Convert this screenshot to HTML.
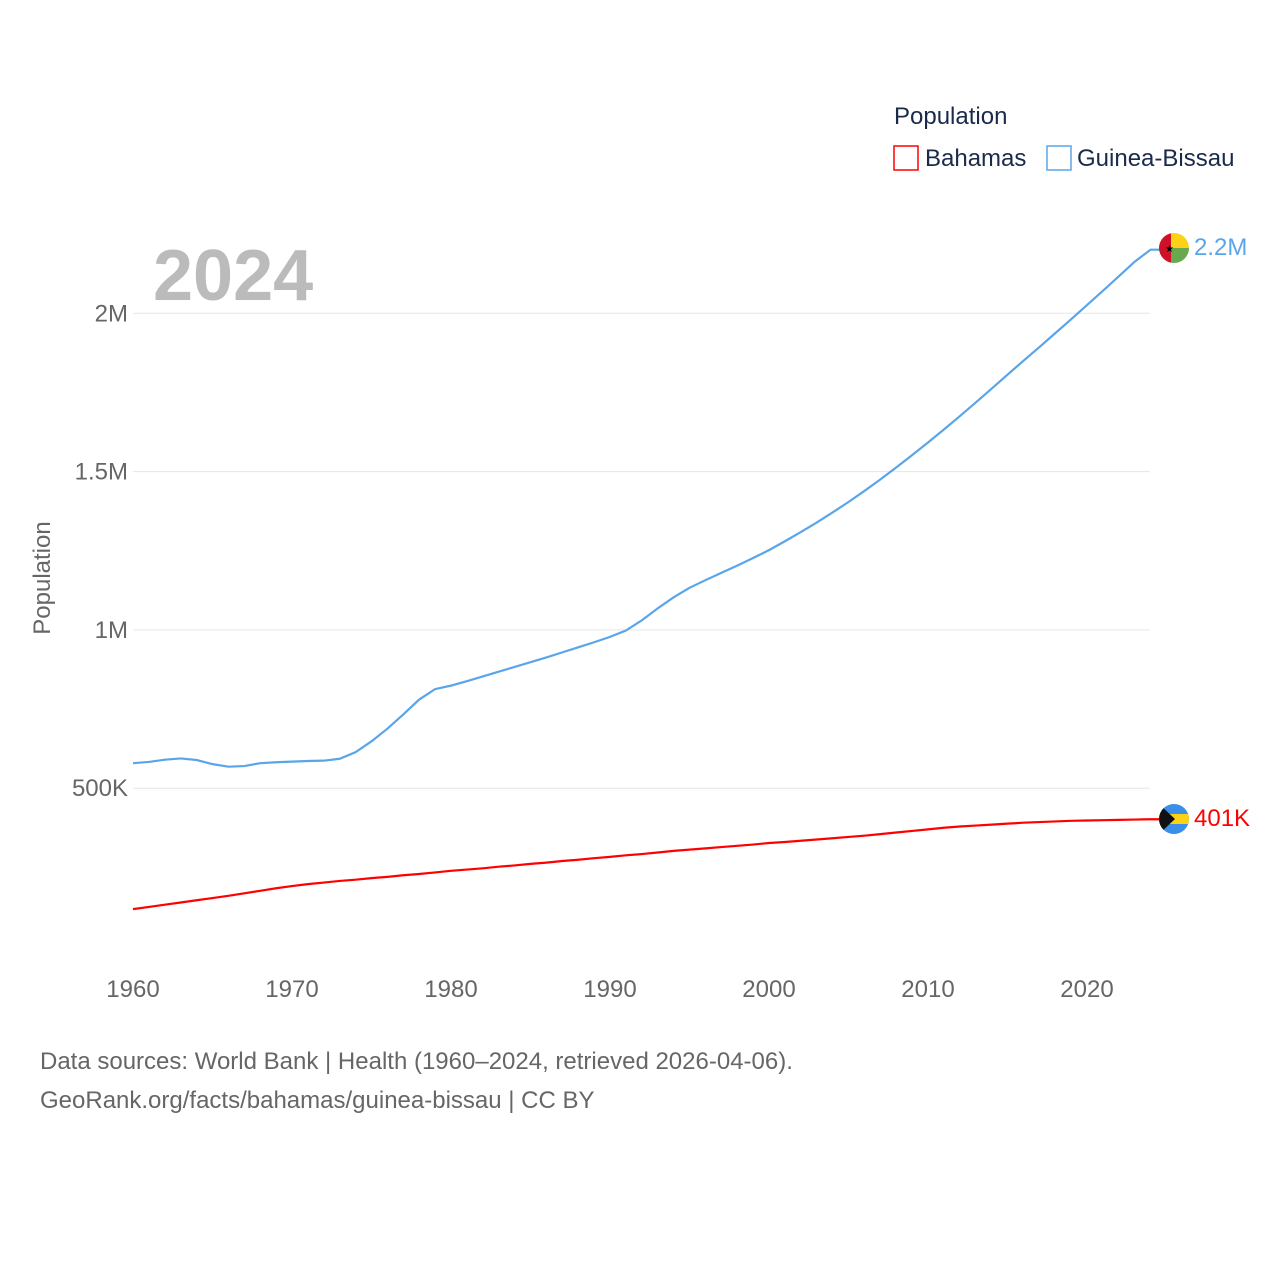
<!DOCTYPE html>
<html><head><meta charset="utf-8"><style>
body{margin:0;background:#fff;font-family:"Liberation Sans",sans-serif}
svg{display:block}
</style></head><body>
<svg width="1280" height="1280" viewBox="0 0 1280 1280">
<text x="894" y="124" font-size="24" fill="#1a2a4a">Population</text>
<g><rect x="894" y="146" width="24" height="24" fill="none" stroke="#f00" stroke-width="1.5"/><text x="925" y="166" font-size="24" fill="#1a2a4a">Bahamas</text></g>
<g><rect x="1047" y="146" width="24" height="24" fill="none" stroke="#5aa5ea" stroke-width="1.5"/><text x="1077" y="166" font-size="24" fill="#1a2a4a">Guinea-Bissau</text></g>
<text x="153" y="300" font-size="72" font-weight="bold" fill="#bbb">2024</text>
<text transform="translate(50,578) rotate(-90)" text-anchor="middle" font-size="24" fill="#666">Population</text>
<g id="grid"></g><g id="ylab"></g><g id="xlab"></g><g id="lines"></g>
<g><clipPath id="c1"><circle cx="1174" cy="248" r="15"/></clipPath><g clip-path="url(#c1)"><rect x="1159" y="233" width="12" height="30" fill="#ce1126"/><rect x="1171" y="233" width="18" height="15" fill="#fcd116"/><rect x="1171" y="248" width="18" height="15" fill="#6aa84f"/></g><text x="1165" y="252" font-size="10">★</text></g>
<g><clipPath id="c2"><circle cx="1174" cy="819" r="15"/></clipPath><g clip-path="url(#c2)"><rect x="1159" y="804" width="30" height="30" fill="#3a8fe8"/><rect x="1159" y="814" width="30" height="10" fill="#fcd116"/><polygon points="1159,804 1175,819 1159,834" fill="#111"/></g></g>
<text x="1194" y="255" font-size="24" fill="#5aa5ea">2.2M</text>
<text x="1194" y="826" font-size="24" fill="#f00">401K</text>
<text x="40" y="1069" font-size="24" fill="#666">Data sources: World Bank | Health (1960–2024, retrieved 2026-04-06).</text>
<text x="40" y="1108" font-size="24" fill="#666">GeoRank.org/facts/bahamas/guinea-bissau | CC BY</text>
</svg>
<script>
const years=[];for(let y=1960;y<=2024;y++)years.push(y);
const guineaBissau=[579,583,590,594,589,576,568,570,579,582,584,586,587,593,614,648,688,733,780,813,824,838,853,868,883,898,913,929,945,961,978,998,1030,1068,1103,1133,1157,1180,1203,1227,1252,1280,1309,1339,1371,1404,1439,1475,1513,1552,1592,1633,1675,1718,1762,1806,1850,1893,1937,1981,2026,2071,2117,2163,2201];
const bahamas=[118,125,132,139,146,153,160,168,176,184,191,197,202,207,211,216,220,225,229,234,239,243,247,252,256,261,265,270,274,279,283,288,292,297,302,306,310,314,318,322,327,330,334,338,342,346,350,355,360,365,370,375,379,382,385,388,391,393,395,397,398,399,400,401,402];
const yTicks=[500,1000,1500,2000];const yTickLabels=["500K","1M","1.5M","2M"];
const xTicks=[1960,1970,1980,1990,2000,2010,2020];
const NS="http://www.w3.org/2000/svg";
const X=y=>133+(y-1960)*15.9;
const Y=v=>946.5-v*0.3166;
function mk(t,a,p){const e=document.createElementNS(NS,t);for(const k in a)e.setAttribute(k,a[k]);document.getElementById(p).appendChild(e);return e;}
yTicks.forEach((v,i)=>{
const l=mk('line',{x1:133,x2:1150,y1:Y(v),y2:Y(v),stroke:'#e6e6e6'},'grid');


const t=mk('text',{x:128,y:Y(v)+8,'text-anchor':'end','font-size':24,fill:'#666'},'ylab');t.textContent=yTickLabels[i];


});
xTicks.forEach(v=>{const t=mk('text',{x:X(v),y:997,'text-anchor':'middle','font-size':24,fill:'#666'},'xlab');t.textContent=v;

});
function line(d,c,n){const pts=d.map((v,i)=>X(years[i])+','+Y(v));pts.push('1160,'+Y(d[d.length-1]));
const p=mk('polyline',{points:pts.join(' '),fill:'none',stroke:c,'stroke-width':2.2},'lines');

}
line(guineaBissau,'#5aa5ea','line-guinea-bissau');
line(bahamas,'#f00','line-bahamas');
</script>
</body></html>
